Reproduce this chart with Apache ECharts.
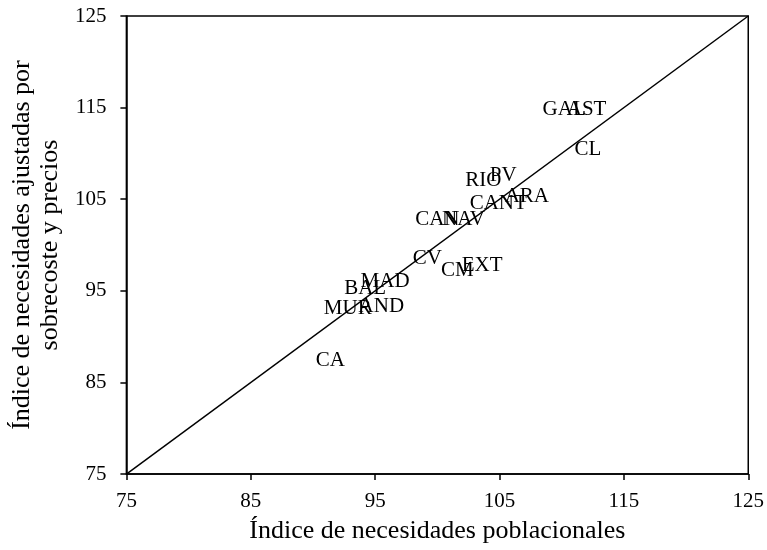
<!DOCTYPE html>
<html>
<head>
<meta charset="utf-8">
<script src="https://cdn.jsdelivr.net/npm/echarts@6/dist/echarts.min.js"></script>
<style>html,body{margin:0;padding:0;background:#fff}#c{width:767px;height:550px}</style>
</head>
<body>
<div id="c"></div>
<script>
const regions = ['GAL','AST','CL','RIO','PV','CANT','ARA','CAN','NAV','CV','CM','EXT','BAL','MAD','MUR','AND','CA'];
const needsPop = [110.2,112.0,112.1,103.7,105.3,104.9,107.2,100.0,102.1,99.2,101.6,103.6,94.2,95.8,92.8,95.5,91.4];
const needsAdj = [114.8,114.8,110.4,107.0,107.6,104.5,105.3,102.8,102.8,98.5,97.2,97.8,95.3,96.0,93.1,93.3,87.4];
const axisMin = 75, axisMax = 125, axisStep = 10;
const xTitle = 'Índice de necesidades poblacionales';
const yTitle = 'Índice de necesidades ajustadas por\nsobrecoste y precios';

const font = '"Liberation Serif", "DejaVu Serif", serif';
const pts = regions.map((r, i) => [needsPop[i], needsAdj[i], r]);

const axisCommon = {
  type: 'value', min: axisMin, max: axisMax, interval: axisStep,
  axisLine: { show: true, onZero: false, lineStyle: { color: '#000', width: 1.5 } },
  axisTick: { show: true, inside: false, length: 6, lineStyle: { color: '#000', width: 1.5 } },
  splitLine: { show: false },
  axisLabel: { color: '#000', fontFamily: font, fontSize: 21 },
  nameLocation: 'middle',
  nameTextStyle: { color: '#000', fontFamily: font, fontSize: 26, lineHeight: 28 }
};

const chart = echarts.init(document.getElementById('c'), null, { renderer: 'canvas' });
chart.setOption({
  backgroundColor: '#fff',
  animation: false,
  grid: { left: 126, right: 18, top: 16, bottom: 72, show: true, borderColor: '#000', borderWidth: 1.5, backgroundColor: 'transparent' },
  xAxis: Object.assign({}, axisCommon, { name: xTitle, nameGap: 42, axisLabel: Object.assign({}, axisCommon.axisLabel, { margin: 17 }) }),
  yAxis: Object.assign({}, axisCommon, { name: yTitle, nameGap: 59, axisLabel: Object.assign({}, axisCommon.axisLabel, { margin: 20 }) }),
  series: [
    {
      type: 'line',
      data: [[axisMin, axisMin], [axisMax, axisMax]],
      showSymbol: false,
      lineStyle: { color: '#000', width: 1.5 },
      silent: true
    },
    {
      type: 'scatter',
      data: pts,
      symbolSize: 1,
      itemStyle: { color: 'rgba(0,0,0,0)', opacity: 1 },
      label: {
        show: true, position: 'inside',
        formatter: p => p.data[2],
        color: '#000', fontFamily: font, fontSize: 21
      }
    }
  ]
});
</script>
</body>
</html>
